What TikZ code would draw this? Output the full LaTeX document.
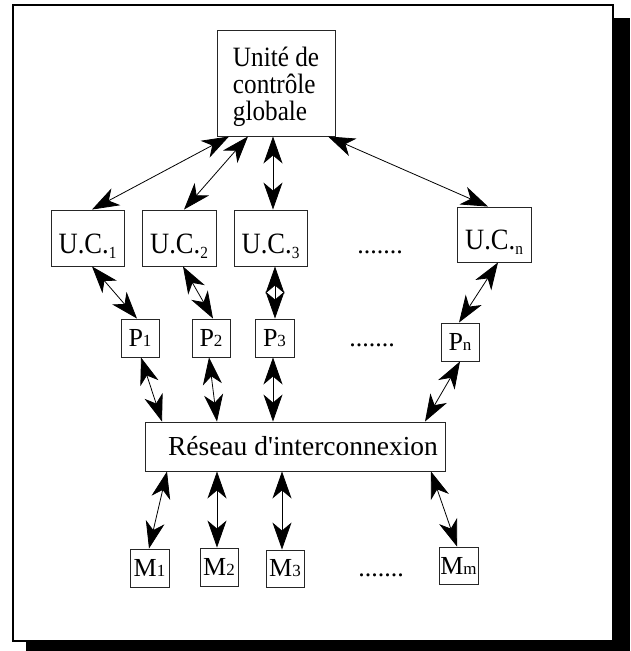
\documentclass[tikz,border=0pt]{standalone}
\usepackage{fontspec}
\setmainfont{Liberation Serif}
\newfontfamily\narrowserif{Liberation Serif}[FakeStretch=0.9]
\usetikzlibrary{arrows.meta}
\newcommand{\lowsub}[1]{\raisebox{-5.5pt}{\fontsize{17}{17}\selectfont #1}}
\newcommand{\basesub}[1]{{\fontsize{17}{17}\selectfont #1}}
\begin{document}
\begin{tikzpicture}[x=1pt,y=-1pt,
  box/.style={draw=black!85, line width=0.9pt, inner sep=0pt, anchor=center},
  topfont/.style={font=\narrowserif\fontsize{28}{27}\selectfont},
  tallfont/.style={font=\narrowserif\fontsize{29.5}{29.5}\selectfont},
  midtxt/.style={font=\fontsize{27.5}{27.5}\selectfont},
  smalltxt/.style={font=\fontsize{26}{26}\selectfont},
  ucbox/.style={box, tallfont, minimum width=73, minimum height=56, text height=43pt, text depth=13pt},
  dotstxt/.style={font=\fontsize{26}{26}\selectfont, inner sep=0pt, anchor=base},
  tipshape/.tip={Stealth[length=27pt,width=19pt,inset=8pt]},
  dar/.style={line width=0.8pt, tipshape-tipshape}]
\useasboundingbox (0,0) rectangle (630,651);
% frame and shadow
\fill[black] (613,18) rectangle (630,651);
\fill[black] (26,641) rectangle (630,651);
\draw[line width=2pt] (13,5) rectangle (613,641);
% nodes
\node[box, topfont, minimum width=118, minimum height=106, align=left] (G) at (276,83) {\rule{0pt}{27pt}Unité de\\contrôle\\globale};
\node[ucbox] (UC1) at (87.5,238) {U.C.\lowsub{1}};
\node[ucbox, minimum width=74] (UC2) at (179,238) {U.C.\lowsub{2}};
\node[ucbox] (UC3) at (270.5,238) {U.C.\lowsub{3}};
\node[ucbox, minimum width=74, minimum height=55, text height=42pt] (UCn) at (494,234.5) {U.C.\lowsub{n}};
\node[dotstxt] (D1) at (380,253) {.......};
\node[box, smalltxt, minimum width=38, minimum height=38] (P1) at (140,338) {P\basesub{1}};
\node[box, smalltxt, minimum width=38, minimum height=38] (P2) at (211,338) {P\basesub{2}};
\node[box, smalltxt, minimum width=39, minimum height=38] (P3) at (274.5,338) {P\basesub{3}};
\node[box, smalltxt, minimum width=38, minimum height=38] (Pn) at (460,342) {P\basesub{n}};
\node[dotstxt] (D2) at (372,346) {.......};
\node[box, midtxt, minimum width=300, minimum height=49] (R) at (295,446.5) {\hspace*{16pt}Réseau d\textquotesingle interconnexion};
\node[box, smalltxt, minimum width=39, minimum height=38] (M1) at (149.5,568) {M\basesub{1}};
\node[box, smalltxt, minimum width=38, minimum height=38] (M2) at (219,567) {M\basesub{2}};
\node[box, smalltxt, minimum width=38, minimum height=37] (M3) at (285,568.5) {M\basesub{3}};
\node[box, smalltxt, minimum width=39, minimum height=37] (Mm) at (458.5,565.5) {M\basesub{m}};
\node[dotstxt] (D3) at (381,576) {.......};
% connectors
\draw[dar] (G.south -| 229,0) -- (UC1.north -| 92,0);
\draw[dar] (G.south -| 248,0) -- (UC2.north -| 184,0);
\draw[dar] (G.south -| 273,0) -- (UC3.north -| 273,0);
\draw[dar] (G.south -| 328,0) -- (UCn.north -| 488,0);
\draw[dar] (UC1.south -| 92,0) -- (P1.north -| 137,0);
\draw[dar] (UC2.south -| 183,0) -- (P2.north -| 213,0);
\draw[dar] (UC3.south -| 275,0) -- (P3.north -| 275,0);
\draw[dar] (UCn.south -| 498,0) -- (Pn.north -| 459,0);
\draw[dar] (P1.south -| 141,0) -- (R.north -| 162,0);
\draw[dar] (P2.south -| 209,0) -- (R.north -| 217,0);
\draw[dar] (P3.south -| 273,0) -- (R.north -| 273,0);
\draw[dar] (Pn.south -| 460,0) -- (R.north -| 425,0);
\draw[dar] (R.south -| 167,0) -- (M1.north -| 149,0);
\draw[dar] (R.south -| 217,0) -- (M2.north -| 217,0);
\draw[dar] (R.south -| 282,0) -- (M3.north -| 282,0);
\draw[dar] (R.south -| 431,0) -- (Mm.north -| 457,0);
\end{tikzpicture}
\end{document}
